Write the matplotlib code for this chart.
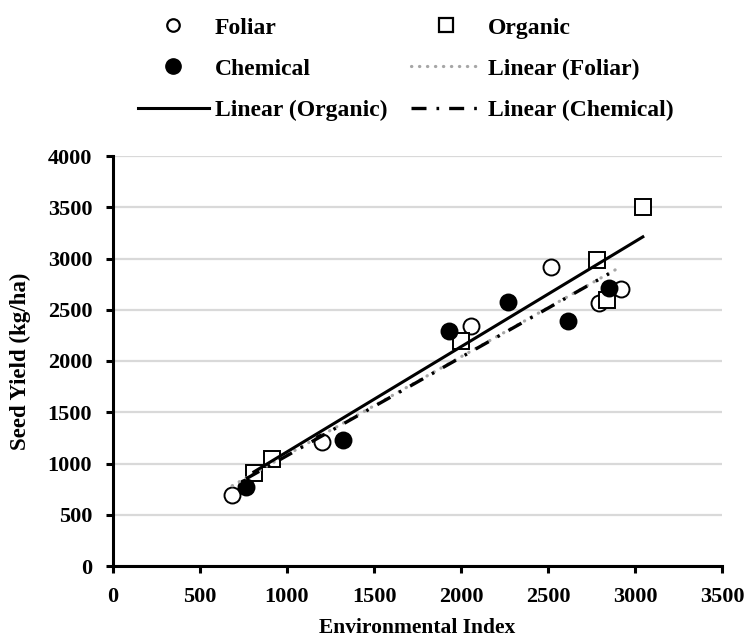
import matplotlib
matplotlib.use("Agg")
import matplotlib.pyplot as plt
from matplotlib.lines import Line2D
import numpy as np

# Environmental index (x) and seed yield in kg/ha (y) per fertiliser type
foliar_x = [685, 1200, 2060, 2520, 2795, 2920]
foliar_y = [690, 1205, 2340, 2920, 2565, 2700]
organic_x = [810, 915, 2000, 2780, 2840, 3045]
organic_y = [910, 1040, 2195, 2990, 2600, 3500]
chemical_x = [765, 1320, 1930, 2270, 2615, 2850]
chemical_y = [770, 1225, 2295, 2580, 2395, 2710]

x_ticks = [0, 500, 1000, 1500, 2000, 2500, 3000, 3500]
y_ticks = [0, 500, 1000, 1500, 2000, 2500, 3000, 3500, 4000]

FONT = "Liberation Serif"
GRID = "#d9d9d9"
TREND_GREY = "#a6a6a6"

plt.rcParams["font.family"] = FONT
plt.rcParams["font.weight"] = "bold"

fig = plt.figure(figsize=(7.46, 6.37), dpi=100)
ax = fig.add_axes([113 / 746, 1 - 566 / 637, 609 / 746, 410 / 637])

MS = 11.5
MEW = 1.4

ax.plot(foliar_x, foliar_y, ls="none", marker="o", ms=MS, mfc="white",
        mec="black", mew=MEW, zorder=3)
ax.plot(organic_x, organic_y, ls="none", marker="s", ms=MS, mfc="white",
        mec="black", mew=MEW, zorder=4)
ax.plot(chemical_x, chemical_y, ls="none", marker="o", ms=MS, mfc="black",
        mec="black", mew=MEW, zorder=5)


def trend(xs, ys):
    k, b = np.polyfit(xs, ys, 1)
    xx = np.array([min(xs), max(xs)])
    return xx, k * xx + b


fx, fy = trend(foliar_x, foliar_y)
ox, oy = trend(organic_x, organic_y)
cx, cy = trend(chemical_x, chemical_y)

foliar_style = dict(color=TREND_GREY, lw=2.3, ls=(0, (0.1, 2.4)),
                    dash_capstyle="round")
organic_style = dict(color="black", lw=2.2, ls="-")
chem_style = dict(color="black", lw=2.4, ls=(0, (4.5, 3.0, 0.8, 3.0)))

ax.plot(fx, fy, zorder=6, **foliar_style)
ax.plot(ox, oy, zorder=7, **organic_style)
ax.plot(cx, cy, zorder=8, **chem_style)

ax.set_xlim(0, 3500)
ax.set_ylim(0, 4000)
ax.set_xticks(x_ticks)
ax.set_yticks(y_ticks)
ax.tick_params(axis="both", direction="out", length=5, width=2.2,
               labelsize=16)
ax.tick_params(axis="x", pad=10)
ax.tick_params(axis="y", pad=10)
for lbl in ax.get_xticklabels() + ax.get_yticklabels():
    lbl.set_fontweight("bold")

ax.yaxis.grid(True, color=GRID, lw=1.6)
ax.set_axisbelow(True)
for side in ("top", "right"):
    ax.spines[side].set_visible(False)
for side in ("left", "bottom"):
    ax.spines[side].set_linewidth(2.2)

ax.set_xlabel("Environmental Index", fontsize=15.5, fontweight="bold", labelpad=8)
ax.set_ylabel("Seed Yield (kg/ha)", fontsize=16.5, fontweight="bold", labelpad=12)

# legend, filled column by column
handles = [
    Line2D([], [], ls="none", marker="o", ms=9, mfc="white", mec="black", mew=1.6),
    Line2D([], [], ls="none", marker="o", ms=11, mfc="black", mec="black"),
    Line2D([], [], **organic_style),
    Line2D([], [], ls="none", marker="s", ms=10, mfc="white", mec="black", mew=1.6),
    Line2D([], [], **foliar_style),
    Line2D([], [], **chem_style),
]
labels = ["Foliar", "Chemical", "Linear (Organic)",
          "Organic", "Linear (Foliar)", "Linear (Chemical)"]
fig.legend(handles, labels, ncol=2, loc="upper left",
           bbox_to_anchor=(138 / 746, 1 - 17 / 637), frameon=False,
           prop=dict(family=FONT, weight="bold", size=17),
           handlelength=3.0, handletextpad=0.25, columnspacing=1.0,
           labelspacing=0.83, borderaxespad=0, borderpad=0)

fig.savefig("out.png", dpi=100)
